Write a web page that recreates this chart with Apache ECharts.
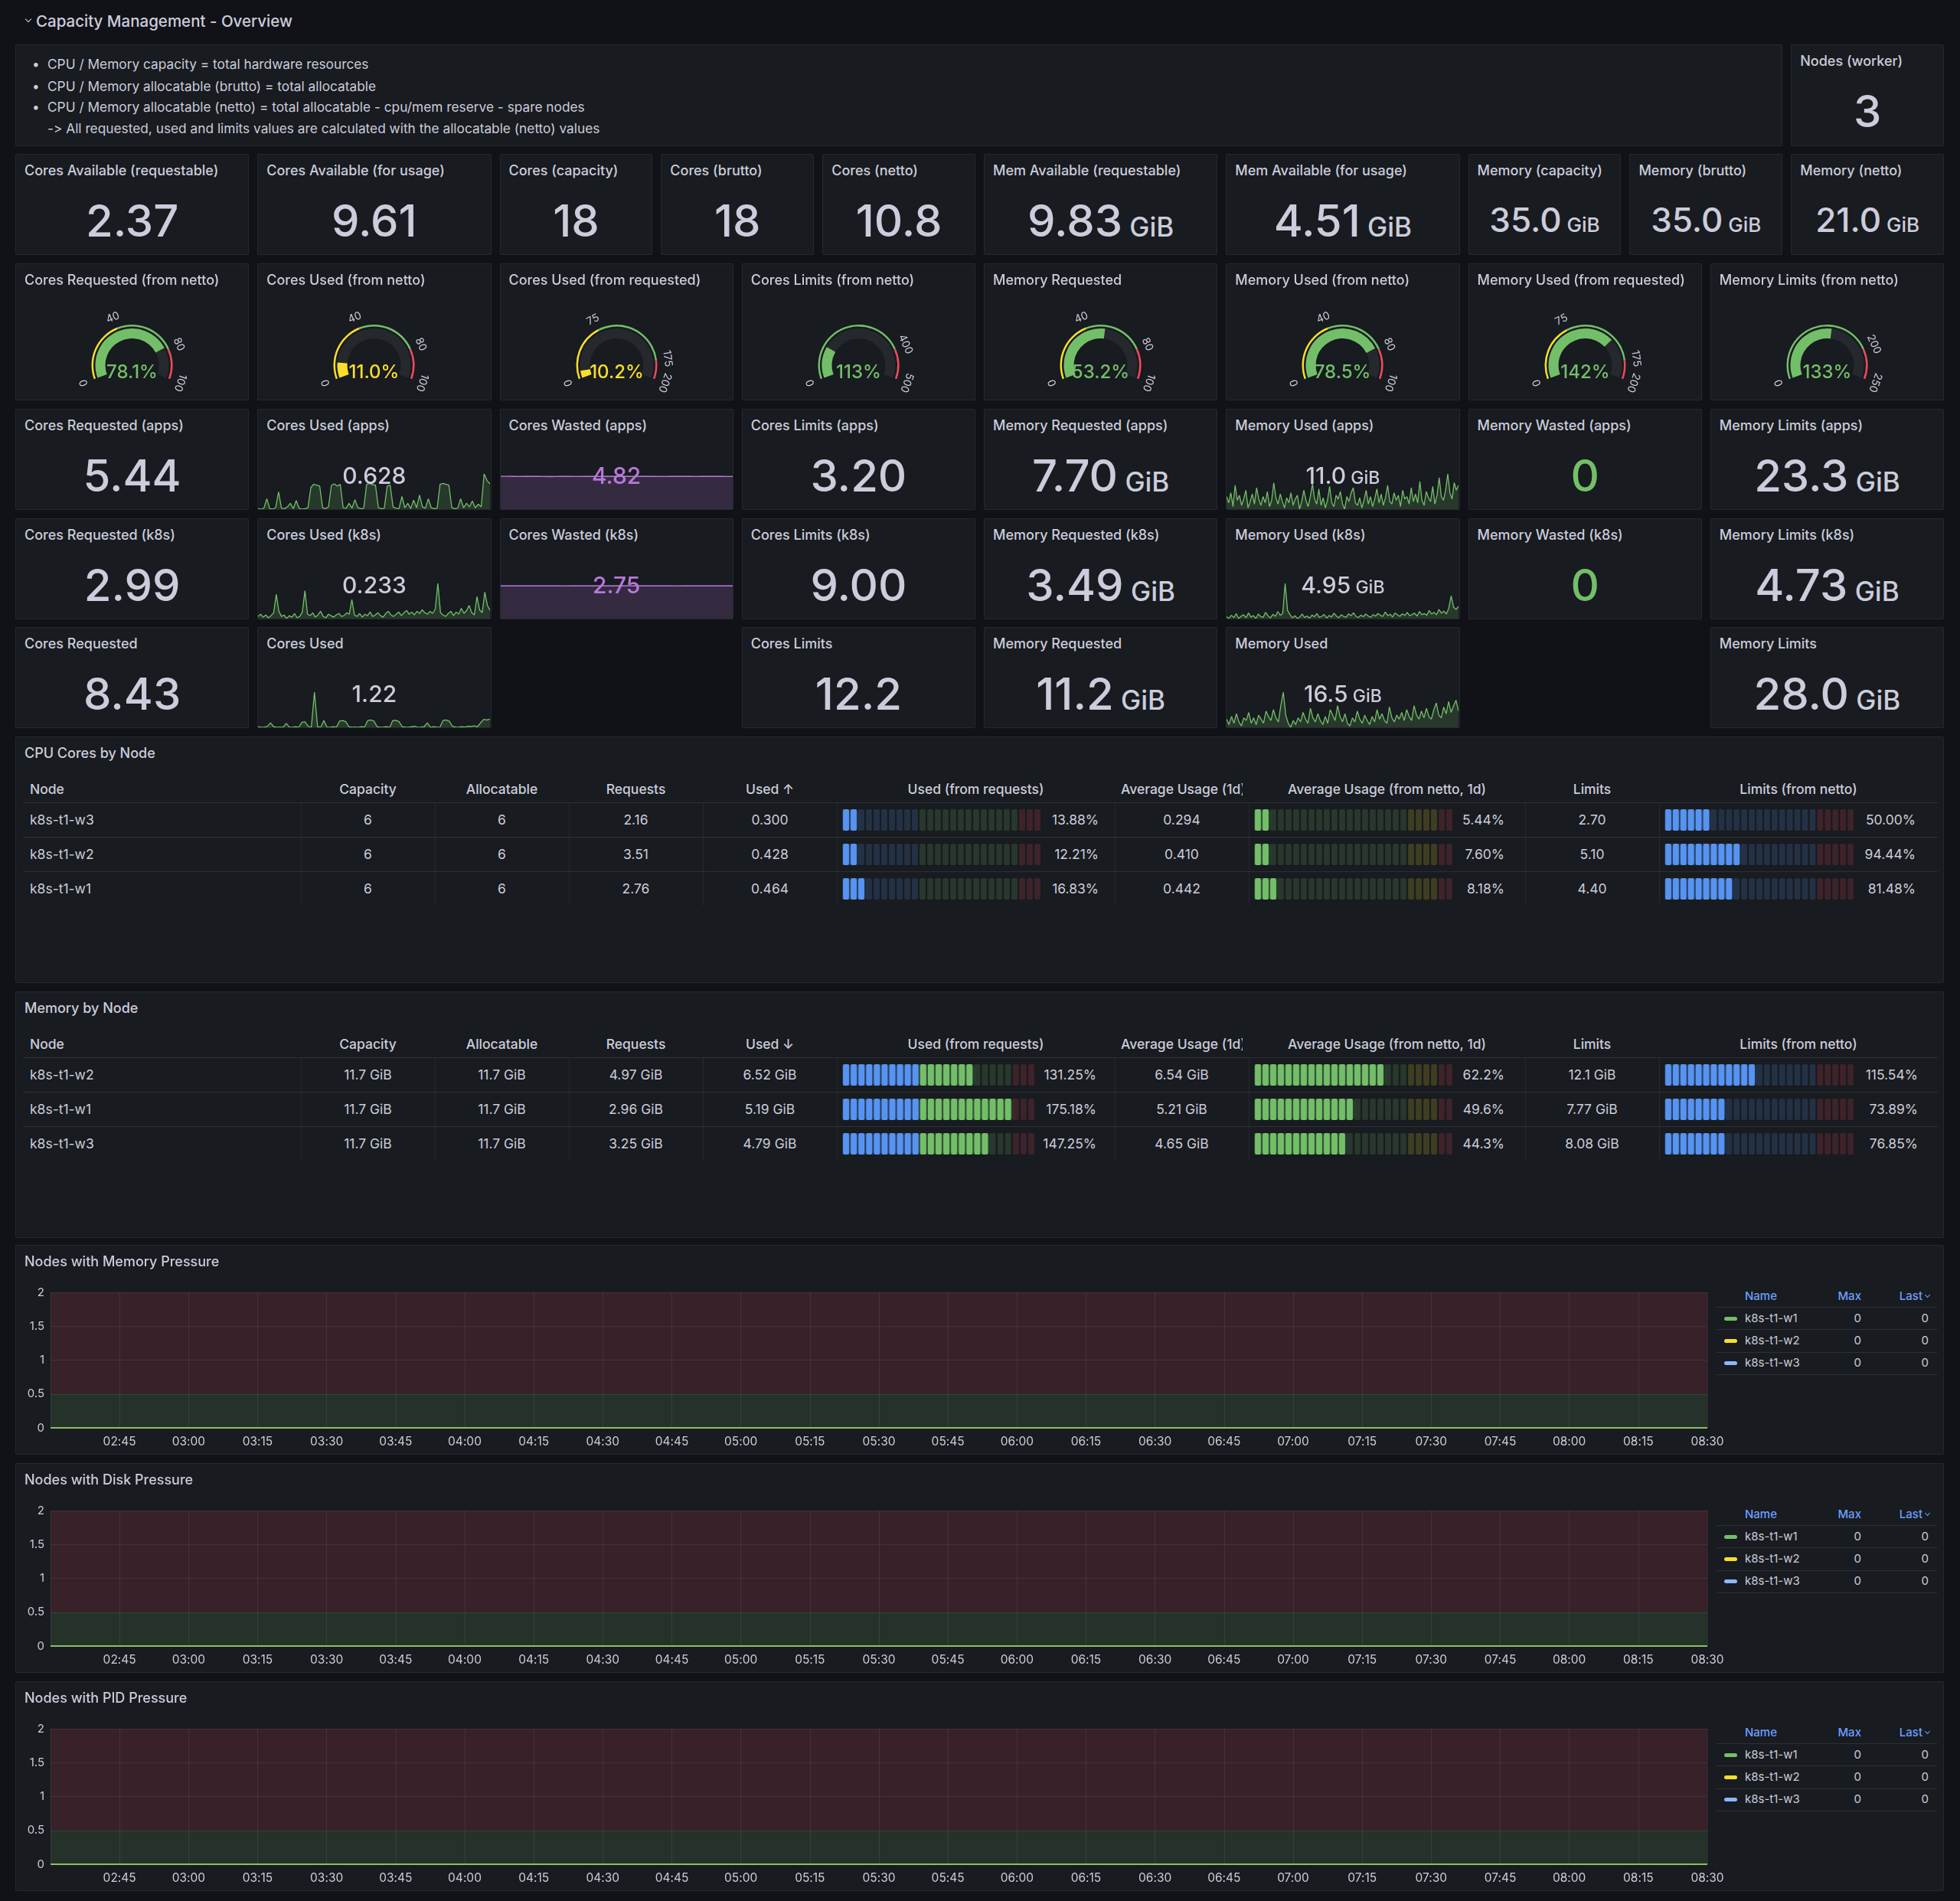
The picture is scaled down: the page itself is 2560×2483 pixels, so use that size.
<!DOCTYPE html>
<html>
<head>
<meta charset="utf-8">
<title>Capacity Management - Overview</title>
<script src="https://cdn.jsdelivr.net/npm/echarts@6/dist/echarts.min.js"></script>
<style>
html, body { margin: 0; padding: 0; background: #111217; }
body { width: 2560px; height: 2483px; position: relative; overflow: hidden; font-family: Inter, 'Noto Sans', sans-serif; color: #ccccdc; font-feature-settings: "calt" 0; }
.panel { position: absolute; background: #181b1f; border: 1px solid rgba(204,204,220,0.08); border-radius: 2px; box-sizing: border-box; overflow: hidden; }
.ptitle { position: absolute; left: 11px; top: 10px; font-size: 18px; font-weight: 500; line-height: 22px; white-space: nowrap; overflow: hidden; z-index: 3; }
.val { position: absolute; left: 0; right: 0; text-align: center; font-weight: 500; white-space: nowrap; line-height: 1.21; z-index: 2; }
.chart { position: absolute; z-index: 1; }
.cell { position: absolute; font-size: 17.5px; line-height: 22px; white-space: nowrap; overflow: hidden; }
.hline { position: absolute; height: 1px; background: rgba(204,204,220,0.12); }
.vline { position: absolute; width: 1px; background: rgba(204,204,220,0.08); }
.chev { position: absolute; width: 5px; height: 5px; border-right: 1.5px solid #ccccdc; border-bottom: 1.5px solid #ccccdc; transform: rotate(45deg); }
</style>
</head>
<body>
<script>
// ---------- data ----------
var rowTitle = 'Capacity Management - Overview';
var infoLines = [
	'CPU / Memory capacity = total hardware resources',
	'CPU / Memory allocatable (brutto) = total allocatable',
	'CPU / Memory allocatable (netto) = total allocatable - cpu/mem reserve - spare nodes',
	'-> All requested, used and limits values are calculated with the allocatable (netto) values'
];
var infoBullets = [true, true, true, false];

var nodesTitle = 'Nodes (worker)';
var nodesValue = '3';

var capTitles = ['Cores Available (requestable)', 'Cores Available (for usage)', 'Cores (capacity)', 'Cores (brutto)', 'Cores (netto)',
	'Mem Available (requestable)', 'Mem Available (for usage)', 'Memory (capacity)', 'Memory (brutto)', 'Memory (netto)'];
var capValues = ['2.37', '9.61', '18', '18', '10.8', '9.83', '4.51', '35.0', '35.0', '21.0'];
var capUnits = ['', '', '', '', '', 'GiB', 'GiB', 'GiB', 'GiB', 'GiB'];

var gaugeTitles = ['Cores Requested (from netto)', 'Cores Used (from netto)', 'Cores Used (from requested)', 'Cores Limits (from netto)',
	'Memory Requested', 'Memory Used (from netto)', 'Memory Used (from requested)', 'Memory Limits (from netto)'];
var gaugeValues = [78.1, 11.0, 10.2, 113, 53.2, 78.5, 142, 133];
var gaugeMax = [100, 100, 200, 500, 100, 100, 200, 250];
var gaugeSteps = [[0, 40, 80], [0, 40, 80], [0, 75, 175], [0, 400], [0, 40, 80], [0, 40, 80], [0, 75, 175], [0, 200]];
var gaugeStepColors = [['yellow', 'green', 'red'], ['yellow', 'green', 'red'], ['yellow', 'green', 'red'], ['green', 'red'],
	['yellow', 'green', 'red'], ['yellow', 'green', 'red'], ['yellow', 'green', 'red'], ['green', 'red']];

var appsTitles = ['Cores Requested (apps)', 'Cores Used (apps)', 'Cores Wasted (apps)', 'Cores Limits (apps)',
	'Memory Requested (apps)', 'Memory Used (apps)', 'Memory Wasted (apps)', 'Memory Limits (apps)'];
var appsValues = ['5.44', '0.628', '4.82', '3.20', '7.70', '11.0', '0', '23.3'];
var appsUnits = ['', '', '', '', 'GiB', 'GiB', '', 'GiB'];

var k8sTitles = ['Cores Requested (k8s)', 'Cores Used (k8s)', 'Cores Wasted (k8s)', 'Cores Limits (k8s)',
	'Memory Requested (k8s)', 'Memory Used (k8s)', 'Memory Wasted (k8s)', 'Memory Limits (k8s)'];
var k8sValues = ['2.99', '0.233', '2.75', '9.00', '3.49', '4.95', '0', '4.73'];
var k8sUnits = ['', '', '', '', 'GiB', 'GiB', '', 'GiB'];

var sumTitles = ['Cores Requested', 'Cores Used', null, 'Cores Limits', 'Memory Requested', 'Memory Used', null, 'Memory Limits'];
var sumValues = ['8.43', '1.22', null, '12.2', '11.2', '16.5', null, '28.0'];
var sumUnits = ['', '', '', '', 'GiB', 'GiB', '', 'GiB'];

var coresUsedApps = [0.08, 0.07, 0.09, 0.30, 0.08, 0.07, 0.10, 0.45, 0.09, 0.08, 0.12, 0.20, 0.08, 0.26, 0.09, 0.07, 0.08, 0.10, 0.55, 0.62,
	0.60, 0.58, 0.10, 0.08, 0.12, 0.60, 0.63, 0.58, 0.62, 0.10, 0.09, 0.20, 0.09, 0.28, 0.10, 0.08, 0.09, 0.62, 0.64, 0.61,
	0.60, 0.10, 0.08, 0.09, 0.58, 0.60, 0.12, 0.09, 0.08, 0.35, 0.10, 0.20, 0.08, 0.27, 0.10, 0.38, 0.12, 0.09, 0.30, 0.10,
	0.08, 0.09, 0.62, 0.64, 0.62, 0.60, 0.10, 0.08, 0.09, 0.30, 0.10, 0.20, 0.12, 0.25, 0.10, 0.18, 0.12, 0.85, 0.70, 0.628];
var coresWastedApps = [4.85, 4.85, 4.84, 4.83, 4.84, 4.85, 4.84, 4.82, 4.81, 4.83, 4.84, 4.84, 4.82, 4.83, 4.84, 4.84, 4.83, 4.84, 4.84, 4.85,
	4.84, 4.84, 4.83, 4.84, 4.84, 4.84, 4.82, 4.83, 4.84, 4.84, 4.84, 4.84, 4.83, 4.84, 4.84, 4.84, 4.84, 4.83, 4.82];
var memUsedApps = [10.1, 9.6, 10.4, 9.3, 11.0, 9.8, 10.2, 9.4, 9.9, 10.6, 9.2, 9.7, 10.3, 9.5, 10.8, 9.9, 9.4, 10.1, 9.6, 10.5,
	9.3, 9.8, 11.2, 10.0, 9.5, 10.3, 9.7, 9.2, 10.0, 9.6, 10.4, 9.4, 9.9, 10.2, 9.1, 9.7, 10.6, 9.8, 9.3, 10.1,
	11.1, 9.9, 9.5, 10.7, 9.4, 10.0, 9.2, 9.8, 10.9, 9.6, 9.3, 10.2, 9.9, 10.5, 9.5, 9.1, 10.1, 9.7, 10.4, 10.8,
	9.6, 9.4, 10.0, 9.2, 9.8, 10.6, 9.5, 10.1, 9.3, 9.9, 10.7, 9.6, 10.3, 9.4, 10.0, 11.0, 9.7, 9.5, 10.4, 9.8,
	10.2, 9.3, 10.6, 9.9, 10.1, 9.5, 10.8, 9.7, 10.3, 9.6, 11.3, 9.8, 9.4, 10.5, 10.0, 9.7, 10.9, 9.5, 10.2, 11.6,
	10.1, 9.8, 10.6, 11.9, 10.4, 9.9, 11.2, 10.6, 11.0];

var coresUsedK8s = [0.15, 0.18, 0.14, 0.17, 0.13, 0.16, 0.20, 0.45, 0.22, 0.15, 0.17, 0.12, 0.16, 0.14, 0.19, 0.13, 0.15, 0.21, 0.50, 0.18,
	0.16, 0.20, 0.14, 0.17, 0.22, 0.15, 0.13, 0.18, 0.16, 0.14, 0.17, 0.19, 0.15, 0.16, 0.20, 0.18, 0.38, 0.17, 0.15, 0.19,
	0.14, 0.18, 0.16, 0.21, 0.15, 0.17, 0.20, 0.16, 0.14, 0.19, 0.22, 0.17, 0.15, 0.18, 0.21, 0.16, 0.20, 0.23, 0.18, 0.21,
	0.17, 0.22, 0.19, 0.24, 0.20, 0.18, 0.22, 0.19, 0.25, 0.60, 0.20, 0.17, 0.15, 0.19, 0.22, 0.16, 0.21, 0.18, 0.26, 0.19,
	0.23, 0.30, 0.20, 0.17, 0.42, 0.24, 0.20, 0.48, 0.30, 0.233];
var coresWastedK8s = [2.75, 2.75, 2.75, 2.76, 2.75, 2.75, 2.75, 2.75, 2.74, 2.75, 2.75, 2.75, 2.75, 2.75, 2.75, 2.76, 2.75, 2.75, 2.75, 2.75,
	2.75, 2.75, 2.74, 2.75, 2.75, 2.75, 2.75, 2.75, 2.75, 2.75];
var memUsedK8s = [4.45, 4.38, 4.52, 4.41, 4.60, 4.36, 4.48, 4.55, 4.40, 4.63, 4.44, 4.50, 4.37, 4.58, 4.46, 4.42, 4.66, 4.49, 4.39, 4.57,
	4.47, 4.70, 4.52, 4.61, 6.05, 4.75, 4.55, 4.40, 4.50, 4.36, 4.44, 4.58, 4.41, 4.49, 4.38, 4.53, 4.45, 4.60, 4.42, 4.47,
	4.56, 4.39, 4.51, 4.44, 4.62, 4.48, 4.40, 4.55, 4.46, 4.43, 4.59, 4.50, 4.64, 4.47, 4.41, 4.53, 4.45, 4.58, 4.49, 4.42,
	4.55, 4.48, 4.61, 4.52, 4.46, 4.68, 4.50, 4.57, 4.44, 4.63, 4.54, 4.47, 4.59, 4.51, 4.66, 4.49, 4.56, 4.62, 4.48, 4.70,
	4.55, 4.60, 4.52, 4.75, 4.58, 4.66, 4.54, 4.80, 4.62, 4.72, 4.58, 4.85, 5.45, 4.90, 4.80, 4.95];

var coresUsedSum = [0.55, 0.50, 0.52, 0.58, 0.90, 0.55, 0.50, 0.53, 0.50, 0.85, 0.52, 0.50, 0.55, 0.50, 0.95, 0.98, 0.60, 0.50, 3.60, 0.55,
	0.50, 1.10, 0.52, 0.50, 0.55, 0.50, 1.05, 1.10, 1.00, 0.55, 0.50, 0.52, 0.50, 0.55, 0.52, 1.10, 1.15, 1.05, 0.55, 0.50,
	0.52, 0.55, 0.50, 1.10, 1.12, 1.00, 0.55, 0.52, 0.50, 0.55, 0.60, 0.50, 0.52, 0.55, 0.90, 0.50, 0.55, 0.52, 0.50, 1.10,
	1.15, 1.05, 0.60, 0.52, 0.50, 0.55, 0.52, 0.60, 0.58, 0.62, 0.55, 0.90, 1.20, 1.15, 1.22];
var memUsedSum = [15.9, 15.5, 16.1, 15.6, 16.3, 15.7, 15.4, 16.0, 15.8, 16.4, 15.6, 16.0, 15.5, 16.2, 15.9, 15.6, 16.5, 16.1, 15.8, 16.6,
	16.0, 15.7, 16.9, 17.9, 16.2, 15.6, 15.3, 15.8, 15.5, 16.0, 15.7, 16.4, 15.9, 15.6, 16.7, 16.0, 15.7, 16.3, 15.8, 15.5,
	16.1, 15.6, 16.6, 16.2, 15.8, 16.9, 16.1, 15.7, 16.3, 15.6, 15.4, 16.0, 15.7, 16.5, 15.9, 15.6, 16.2, 15.8, 15.5, 16.1,
	15.7, 16.6, 15.9, 16.3, 15.8, 15.6, 16.8, 16.0, 15.7, 16.2, 15.9, 16.4, 15.8, 16.6, 16.1, 15.8, 16.9, 16.2, 15.9, 16.5,
	16.0, 16.7, 16.1, 15.9, 16.6, 17.1, 16.2, 16.0, 16.8, 16.3, 17.2, 16.4, 16.9, 17.3, 16.5];

// tables
var tableHeaders = ['Node', 'Capacity', 'Allocatable', 'Requests', 'Used', 'Used (from requests)', 'Average Usage (1d)',
	'Average Usage (from netto, 1d)', 'Limits', 'Limits (from netto)'];
var cpuNodes = ['k8s-t1-w3', 'k8s-t1-w2', 'k8s-t1-w1'];
var cpuCapacity = [6, 6, 6];
var cpuAllocatable = [6, 6, 6];
var cpuRequests = [2.16, 3.51, 2.76];
var cpuUsed = [0.300, 0.428, 0.464];
var cpuUsedFromReq = [13.88, 12.21, 16.83];
var cpuAvgUsage = [0.294, 0.410, 0.442];
var cpuAvgFromNetto = [5.44, 7.60, 8.18];
var cpuLimits = [2.70, 5.10, 4.40];
var cpuLimitsFromNetto = [50.00, 94.44, 81.48];

var memNodes = ['k8s-t1-w2', 'k8s-t1-w1', 'k8s-t1-w3'];
var memCapacity = [11.7, 11.7, 11.7];
var memAllocatable = [11.7, 11.7, 11.7];
var memRequests = [4.97, 2.96, 3.25];
var memUsed = [6.52, 5.19, 4.79];
var memUsedFromReq = [131.25, 175.18, 147.25];
var memAvgUsage = [6.54, 5.21, 4.65];
var memAvgFromNetto = [62.2, 49.6, 44.3];
var memLimits = [12.1, 7.77, 8.08];
var memLimitsFromNetto = [115.54, 73.89, 76.85];

// bar gauge thresholds: used from requests, average from netto, limits from netto
var barMax = [200, 100, 250];
var barSteps = [[0, 75, 175], [0, 75, 90], [0, 200]];
var barStepColors = [['blue', 'green', 'red'], ['green', 'yellow', 'red'], ['blue', 'red']];

// time series
var timeLabels = ['02:30', '02:45', '03:00', '03:15', '03:30', '03:45', '04:00', '04:15', '04:30', '04:45', '05:00', '05:15', '05:30',
	'05:45', '06:00', '06:15', '06:30', '06:45', '07:00', '07:15', '07:30', '07:45', '08:00', '08:15', '08:30'];
var pressureNodes = ['k8s-t1-w1', 'k8s-t1-w2', 'k8s-t1-w3'];
var memPressureW1 = [0, 0, 0, 0, 0, 0, 0, 0, 0, 0, 0, 0, 0, 0, 0, 0, 0, 0, 0, 0, 0, 0, 0, 0, 0];
var memPressureW2 = [0, 0, 0, 0, 0, 0, 0, 0, 0, 0, 0, 0, 0, 0, 0, 0, 0, 0, 0, 0, 0, 0, 0, 0, 0];
var memPressureW3 = [0, 0, 0, 0, 0, 0, 0, 0, 0, 0, 0, 0, 0, 0, 0, 0, 0, 0, 0, 0, 0, 0, 0, 0, 0];
var diskPressureW1 = [0, 0, 0, 0, 0, 0, 0, 0, 0, 0, 0, 0, 0, 0, 0, 0, 0, 0, 0, 0, 0, 0, 0, 0, 0];
var diskPressureW2 = [0, 0, 0, 0, 0, 0, 0, 0, 0, 0, 0, 0, 0, 0, 0, 0, 0, 0, 0, 0, 0, 0, 0, 0, 0];
var diskPressureW3 = [0, 0, 0, 0, 0, 0, 0, 0, 0, 0, 0, 0, 0, 0, 0, 0, 0, 0, 0, 0, 0, 0, 0, 0, 0];
var pidPressureW1 = [0, 0, 0, 0, 0, 0, 0, 0, 0, 0, 0, 0, 0, 0, 0, 0, 0, 0, 0, 0, 0, 0, 0, 0, 0];
var pidPressureW2 = [0, 0, 0, 0, 0, 0, 0, 0, 0, 0, 0, 0, 0, 0, 0, 0, 0, 0, 0, 0, 0, 0, 0, 0, 0];
var pidPressureW3 = [0, 0, 0, 0, 0, 0, 0, 0, 0, 0, 0, 0, 0, 0, 0, 0, 0, 0, 0, 0, 0, 0, 0, 0, 0];

// ---------- styles / layout ----------
var TEXT = '#ccccdc';
var palette = { green: '#73bf69', yellow: '#fade2a', red: '#f2495c', blue: '#5794f2', purple: '#b877d9', lightblue: '#8ab8ff' };
var FONT = 'Inter';
var COL = 105.42, GAP = 11, LEFT = 20;

function colX(c) { return LEFT + c * COL; }
function spanW(n) { return n * COL - GAP; }
function alpha(hex, a) {
	var n = parseInt(hex.slice(1), 16);
	return 'rgba(' + (n >> 16) + ',' + ((n >> 8) & 255) + ',' + (n & 255) + ',' + a + ')';
}
function gcd(a, b) { return b ? gcd(b, a % b) : a; }
function stepColor(v, steps, cols) {
	var c = palette[cols[0]];
	for (var k = 0; k < steps.length; k++) {
		if (v >= steps[k]) c = palette[cols[k]];
	}
	return c;
}

function el(parent, cls, css, text) {
	var d = document.createElement('div');
	if (cls) d.className = cls;
	for (var k in css) d.style[k] = css[k];
	if (text != null) d.textContent = text;
	parent.appendChild(d);
	return d;
}
function px(v) { return v + 'px'; }

function makePanel(x, y, w, h, title) {
	var p = el(document.body, 'panel', { left: px(x), top: px(y), width: px(w), height: px(h) });
	if (title) el(p, 'ptitle', { maxWidth: px(w - 34) }, title);
	return p;
}

function addValue(p, text, unit, size, color, cy, unitRatio) {
	var d = el(p, 'val', { fontSize: px(size), top: px(cy - size * 0.605), color: color });
	var s = document.createElement('span');
	s.textContent = text;
	d.appendChild(s);
	if (unit) {
		var u = document.createElement('span');
		u.textContent = ' ' + unit;
		u.style.fontSize = px(Math.round(size * (unitRatio || 0.6)));
		d.appendChild(u);
	}
}

function addChart(p, left, top, w, h) {
	var d = el(p, 'chart', { left: px(left), top: px(top), width: px(w), height: px(h) });
	return echarts.init(d, null, { renderer: 'canvas' });
}

// ---------- row header + info ----------
el(document.body, 'chev', { left: '34px', top: '22px' });
el(document.body, null, { position: 'absolute', left: '47px', top: '16px', fontSize: '20.5px', fontWeight: 500, lineHeight: '24px' }, rowTitle);

var info = makePanel(colX(0), 58, spanW(22), 133, null);
var infoY = [25, 54, 81, 109];
for (var i = 0; i < infoLines.length; i++) {
	if (infoBullets[i]) el(info, 'cell', { left: '21px', top: px(infoY[i] - 11), fontSize: '17.3px' }, '\u2022');
	el(info, 'cell', { left: '41px', top: px(infoY[i] - 11), fontSize: '17.3px' }, infoLines[i]);
}
var nodesPanel = makePanel(colX(22), 58, spanW(2), 133, nodesTitle);
addValue(nodesPanel, nodesValue, '', 58, TEXT, 86);

// ---------- stat row 1 ----------
var capSpans = [3, 3, 2, 2, 2, 3, 3, 2, 2, 2];
var c0 = 0;
for (i = 0; i < capTitles.length; i++) {
	var p1 = makePanel(colX(c0), 201, spanW(capSpans[i]), 132, capTitles[i]);
	var size = (capSpans[i] == 2 && capUnits[i]) ? 44 : 58;
	addValue(p1, capValues[i], capUnits[i], size, TEXT, 86);
	c0 += capSpans[i];
}

// ---------- gauges ----------
function gaugeOption(value, max, steps, cols) {
	var stops = [];
	for (var k = 0; k < steps.length; k++) {
		var end = k + 1 < steps.length ? steps[k + 1] / max : 1;
		stops.push([end, palette[cols[k]]]);
	}
	var color = stepColor(value, steps, cols);
	var marks = steps.concat([max]);
	var step = marks.reduce(function(g, v) { return gcd(g, v); }, 0);
	var common = { type: 'gauge', center: ['50%', 132], startAngle: 200, endAngle: -20, min: 0, max: max,
		pointer: { show: false }, anchor: { show: false }, title: { show: false }, axisTick: { show: false } };
	return {
		animation: false,
		series: [
			echarts.util.merge({
				radius: 53,
				splitNumber: max / step,
				axisLine: { lineStyle: { width: 2.5, color: stops } },
				splitLine: { show: false, length: 0, distance: 0 },
				axisLabel: {
					show: true, distance: -14, rotate: 'tangential', color: TEXT, fontSize: 14, fontFamily: FONT,
					formatter: function(v) {
						for (var m = 0; m < marks.length; m++) {
							if (Math.abs(marks[m] - v) < 1e-6) return String(marks[m]);
						}
						return '';
					}
				},
				detail: { show: false },
				data: [{ value: 0 }]
			}, common, true),
			echarts.util.merge({
				radius: 48,
				axisLine: { lineStyle: { width: 13, color: [[1, '#25282d']] } },
				progress: { show: true, width: 13, itemStyle: { color: color } },
				splitLine: { show: false },
				axisLabel: { show: false },
				detail: {
					show: true, offsetCenter: [0, 10], fontSize: 24, fontWeight: 500, fontFamily: FONT, color: color,
					formatter: function(v) { return (v >= 100 ? v.toFixed(0) : v.toPrecision(3)) + '%'; }
				},
				data: [{ value: value }]
			}, common, true)
		]
	};
}

for (i = 0; i < gaugeTitles.length; i++) {
	var pw = spanW(3);
	var gp = makePanel(colX(i * 3), 344, pw, 179, gaugeTitles[i]);
	var gc = addChart(gp, 0, 0, pw - 2, 177);
	gc.setOption(gaugeOption(gaugeValues[i], gaugeMax[i], gaugeSteps[i], gaugeStepColors[i]));
}

// ---------- stat rows with sparklines ----------
var sparkData = {
	'Cores Used (apps)': coresUsedApps, 'Cores Wasted (apps)': coresWastedApps, 'Memory Used (apps)': memUsedApps,
	'Cores Used (k8s)': coresUsedK8s, 'Cores Wasted (k8s)': coresWastedK8s, 'Memory Used (k8s)': memUsedK8s,
	'Cores Used': coresUsedSum, 'Memory Used': memUsedSum
};
var statColor = {
	'Cores Wasted (apps)': palette.purple, 'Cores Wasted (k8s)': palette.purple,
	'Memory Wasted (apps)': palette.green, 'Memory Wasted (k8s)': palette.green
};

function sparkOption(data, color, fromZero) {
	return {
		animation: false,
		grid: { left: 0, right: 0, top: 1, bottom: 0 },
		xAxis: { type: 'category', show: false, boundaryGap: false, data: data.map(function(d, k) { return k; }) },
		yAxis: { type: 'value', show: false, scale: true, min: fromZero ? 0 : 'dataMin', max: 'dataMax' },
		series: [{
			type: 'line', data: data, symbol: 'none', silent: true,
			lineStyle: { color: color, width: fromZero ? 1.6 : 1.3 },
			areaStyle: { color: color, opacity: 0.18 }
		}]
	};
}

function statRow(y, titles, values, units) {
	for (var k = 0; k < titles.length; k++) {
		if (!titles[k]) continue;
		var w = spanW(3);
		var p = makePanel(colX(k * 3), y, w, 132, titles[k]);
		var color = statColor[titles[k]] || TEXT;
		var series = sparkData[titles[k]];
		if (series) {
			var wasted = color == palette.purple;
			var ch = wasted ? addChart(p, 0, 86, w - 2, 44) : addChart(p, 0, 83, w - 2, 47);
			ch.setOption(sparkOption(series, wasted ? palette.purple : palette.green, wasted));
			addValue(p, values[k], units[k], 30, color, 86, 0.75);
		} else {
			addValue(p, values[k], units[k], 58, color, 86);
		}
	}
}
statRow(534, appsTitles, appsValues, appsUnits);
statRow(677, k8sTitles, k8sValues, k8sUnits);
statRow(819, sumTitles, sumValues, sumUnits);

// ---------- tables ----------
var colBounds = [10, 372, 547, 722, 897, 1072, 1435, 1610, 1971, 2146, 2510];
var rowCenters = [108, 153, 198];

function lcdOption(value, max, cells, steps, cols) {
	var cats = [], data = [];
	for (var k = 0; k < cells; k++) {
		var v = max / cells * k;
		var c = stepColor(v, steps, cols);
		var lit = v <= value;
		cats.push(v);
		data.push({ value: 1, itemStyle: { color: lit ? c : alpha(c, 0.18), shadowBlur: lit ? 4 : 0, shadowColor: alpha(c, 0.6) } });
	}
	return {
		animation: false,
		grid: { left: 0, right: 0, top: 0, bottom: 0 },
		xAxis: { type: 'category', show: false, data: cats },
		yAxis: { type: 'value', show: false, min: 0, max: 1 },
		series: [{ type: 'bar', data: data, barCategoryGap: '22%', silent: true, itemStyle: { borderRadius: 2 } }]
	};
}

function buildTable(y, title, sortMark, cols, formats, barWidths, textRights) {
	var p = makePanel(20, y, 2519, 322, title);
	for (var c = 0; c < tableHeaders.length; c++) {
		var x0 = colBounds[c], x1 = colBounds[c + 1];
		var head = tableHeaders[c] + (c == 4 ? ' ' + sortMark : '');
		el(p, 'cell', { left: px(x0 + 8), width: px(x1 - x0 - 16), top: '57px', fontWeight: 500, textAlign: c == 0 ? 'left' : 'center' }, head);
	}
	el(p, 'hline', { left: '10px', width: '2500px', top: '85px' });
	el(p, 'hline', { left: '10px', width: '2500px', top: '130px' });
	el(p, 'hline', { left: '10px', width: '2500px', top: '175px' });
	for (c = 1; c < tableHeaders.length; c++) {
		el(p, 'vline', { left: px(colBounds[c]), top: '86px', height: '134px' });
	}
	var barCol = 0;
	for (c = 0; c < cols.length; c++) {
		var x0c = colBounds[c], x1c = colBounds[c + 1];
		var isBar = c == 5 || c == 7 || c == 9;
		for (var r = 0; r < cols[c].length; r++) {
			var cy = rowCenters[r];
			var txt = formats[c](cols[c][r]);
			if (isBar) {
				var bw = barWidths[barCol];
				var chart = addChart(p, x0c + 7, cy - 14, bw, 28);
				chart.setOption(lcdOption(cols[c][r], barMax[barCol], Math.floor((bw + 2) / 10), barSteps[barCol], barStepColors[barCol]));
				el(p, 'cell', { left: px(x0c + 7 + bw), width: px(textRights[barCol] - x0c - 7 - bw), top: px(cy - 11), textAlign: 'right' }, txt);
			} else {
				el(p, 'cell', { left: px(x0c + 8), width: px(x1c - x0c - 16), top: px(cy - 11), textAlign: c == 0 ? 'left' : 'center' }, txt);
			}
		}
		if (isBar) barCol++;
	}
}

function asIs(v) { return String(v); }
function p3(v) { return v.toPrecision(3); }
function gib(v) { return v.toPrecision(3) + ' GiB'; }
function pct2(v) { return v.toFixed(2) + '%'; }
function pct3(v) { return v.toPrecision(3) + '%'; }

buildTable(962, 'CPU Cores by Node', '\u2191',
	[cpuNodes, cpuCapacity, cpuAllocatable, cpuRequests, cpuUsed, cpuUsedFromReq, cpuAvgUsage, cpuAvgFromNetto, cpuLimits, cpuLimitsFromNetto],
	[asIs, asIs, asIs, p3, p3, pct2, p3, pct3, p3, pct2],
	[260, 260, 248], [1414, 1944, 2481]);
buildTable(1295, 'Memory by Node', '\u2193',
	[memNodes, memCapacity, memAllocatable, memRequests, memUsed, memUsedFromReq, memAvgUsage, memAvgFromNetto, memLimits, memLimitsFromNetto],
	[asIs, gib, gib, gib, gib, pct2, gib, pct3, gib, pct2],
	[252, 260, 248], [1411, 1944, 2484]);

// ---------- pressure time series ----------
var seriesColors = [palette.green, palette.yellow, palette.lightblue];

function pressureOption(lines) {
	var series = [];
	for (var k = 0; k < lines.length; k++) {
		var s = {
			name: pressureNodes[k], type: 'line', data: lines[k], symbol: 'none', silent: true, z: 5 - k,
			lineStyle: { color: seriesColors[k], width: 1.6 }
		};
		if (k == 0) {
			s.markArea = {
				silent: true,
				data: [
					[{ yAxis: 0, itemStyle: { color: alpha(palette.green, 0.15) } }, { yAxis: 0.5 }],
					[{ yAxis: 0.5, itemStyle: { color: alpha(palette.red, 0.15) } }, { yAxis: 2 }]
				]
			};
		}
		series.push(s);
	}
	return {
		animation: false,
		grid: { left: 45, right: 308, top: 61, height: 177 },
		xAxis: {
			type: 'category', boundaryGap: false, data: timeLabels,
			axisLine: { show: false }, axisTick: { show: false },
			axisLabel: { color: TEXT, fontSize: 15.5, fontFamily: FONT, interval: 0, margin: 10,
				formatter: function(v, idx) { return idx === 0 ? '' : v; } },
			splitLine: { show: true, interval: 0, lineStyle: { color: 'rgba(204,204,220,0.1)' } }
		},
		yAxis: {
			type: 'value', min: 0, max: 2, interval: 0.5,
			axisLabel: { color: TEXT, fontSize: 15, fontFamily: FONT, margin: 8 },
			splitLine: { lineStyle: { color: 'rgba(204,204,220,0.1)' } }
		},
		series: series
	};
}

function pressurePanel(y, title, lines) {
	var p = makePanel(20, y, 2519, 274, title);
	var ch = addChart(p, 0, 0, 2517, 272);
	ch.setOption(pressureOption(lines));
	// legend table
	var hdr = { top: '55px', color: '#6e9fff', fontWeight: 500, fontSize: '15px' };
	el(p, 'cell', echarts.util.extend({ left: '2258px' }, hdr), 'Name');
	el(p, 'cell', echarts.util.extend({ left: '2330px', width: '80px', textAlign: 'right' }, hdr), 'Max');
	el(p, 'cell', echarts.util.extend({ left: '2420px', width: '70px', textAlign: 'right' }, hdr), 'Last');
	var ch2 = el(p, 'chev', { left: '2494px', top: '62px', width: '4px', height: '4px' });
	ch2.style.borderColor = '#6e9fff';
	var lineTops = [80, 109, 139, 168];
	for (var k = 0; k < lineTops.length; k++) {
		el(p, 'hline', { left: '2221px', width: '288px', top: px(lineTops[k]) });
	}
	var centers = [95, 124, 153];
	for (k = 0; k < lines.length; k++) {
		var maxV = Math.max.apply(null, lines[k]);
		var lastV = lines[k][lines[k].length - 1];
		el(p, null, { position: 'absolute', left: '2231px', top: px(centers[k] - 2), width: '17px', height: '5px', borderRadius: '3px', background: seriesColors[k] });
		el(p, 'cell', { left: '2258px', top: px(centers[k] - 11), fontSize: '15px' }, pressureNodes[k]);
		el(p, 'cell', { left: '2330px', width: '80px', textAlign: 'right', top: px(centers[k] - 11), fontSize: '15px' }, String(maxV));
		el(p, 'cell', { left: '2420px', width: '78px', textAlign: 'right', top: px(centers[k] - 11), fontSize: '15px' }, String(lastV));
	}
}

pressurePanel(1626, 'Nodes with Memory Pressure', [memPressureW1, memPressureW2, memPressureW3]);
pressurePanel(1911, 'Nodes with Disk Pressure', [diskPressureW1, diskPressureW2, diskPressureW3]);
pressurePanel(2196, 'Nodes with PID Pressure', [pidPressureW1, pidPressureW2, pidPressureW3]);
</script>
</body>
</html>
